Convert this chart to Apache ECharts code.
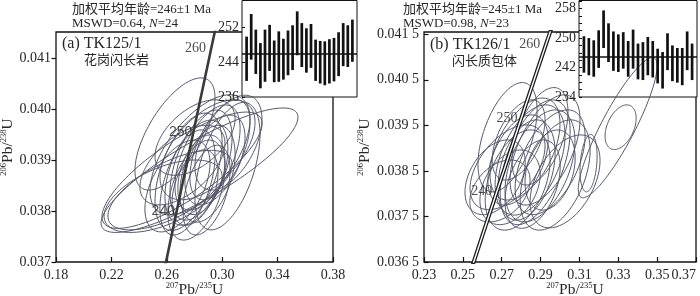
<!DOCTYPE html>
<html><head><meta charset="utf-8">
<script src="https://cdn.jsdelivr.net/npm/echarts@6/dist/echarts.min.js"></script>
<style>html,body{margin:0;padding:0;background:#fff}#c{width:700px;height:296px}</style>
</head><body><div id="c"></div>
<script>
// ---------- DATA ----------
// concordia curve (age in Ma, 207Pb/235U, 206Pb/238U)
const concAge = [230, 235, 240, 245, 250, 255, 260, 265];
const concX = [0.25422, 0.26041, 0.26663, 0.27289, 0.27917, 0.28549, 0.29183, 0.29821];
const concY = [0.036323, 0.037127, 0.037932, 0.038737, 0.039543, 0.040350, 0.041157, 0.041965];
const concLabelAges = [240, 250, 260];

// error ellipses: [207Pb/235U, half-range x, 206Pb/238U, half-range y, rho]
const ellipsesA = [
  [0.2836, 0.0711, 0.03880, 0.00122, 0.85],
  [0.2710, 0.0578, 0.03880, 0.00114, 0.80],
  [0.2659, 0.0289, 0.03951, 0.00110, 0.65],
  [0.2573, 0.0426, 0.03829, 0.00071, 0.55],
  [0.2623, 0.0448, 0.03841, 0.00078, 0.65],
  [0.2840, 0.0361, 0.03910, 0.00118, 0.60],
  [0.2894, 0.0343, 0.03920, 0.00098, 0.55],
  [0.2757, 0.0242, 0.03877, 0.00115, 0.50],
  [0.2814, 0.0227, 0.03875, 0.00103, 0.45],
  [0.2847, 0.0224, 0.03890, 0.00108, 0.50],
  [0.2894, 0.0235, 0.03905, 0.00103, 0.55],
  [0.2749, 0.0199, 0.03856, 0.00103, 0.50],
  [0.2814, 0.0206, 0.03841, 0.00098, 0.45],
  [0.2894, 0.0199, 0.03873, 0.00095, 0.40],
  [0.2948, 0.0217, 0.03900, 0.00088, 0.50],
  [0.2804, 0.0166, 0.03846, 0.00074, 0.40],
  [0.2984, 0.0217, 0.03920, 0.00098, 0.55],
  [0.2677, 0.0235, 0.03849, 0.00090, 0.50],
  [0.2850, 0.0170, 0.03871, 0.00078, 0.35],
  [0.3045, 0.0242, 0.03934, 0.00093, 0.50],
  [0.2804, 0.0289, 0.03944, 0.00074, 0.50],
  [0.2887, 0.0170, 0.03841, 0.00088, 0.45],
  [0.2713, 0.0307, 0.03890, 0.00078, 0.55],
  [0.3038, 0.0235, 0.03888, 0.00125, 0.50]
];
const ellipsesB = [
  [0.3297, 0.0203, 0.03945, 0.00154, 0.88],
  [0.3312, 0.0080, 0.03946, 0.00049, 0.40],
  [0.3147, 0.0044, 0.03867, 0.00063, 0.25],
  [0.2730, 0.0152, 0.03924, 0.00120, 0.50],
  [0.2666, 0.0155, 0.03836, 0.00082, 0.40],
  [0.2730, 0.0193, 0.03858, 0.00093, 0.50],
  [0.2820, 0.0180, 0.03898, 0.00112, 0.50],
  [0.2846, 0.0180, 0.03874, 0.00121, 0.45],
  [0.2872, 0.0180, 0.03869, 0.00137, 0.50],
  [0.2897, 0.0180, 0.03861, 0.00123, 0.45],
  [0.2782, 0.0167, 0.03830, 0.00110, 0.40],
  [0.2923, 0.0180, 0.03896, 0.00121, 0.55],
  [0.2949, 0.0180, 0.03869, 0.00115, 0.50],
  [0.2828, 0.0147, 0.03852, 0.00110, 0.35],
  [0.2975, 0.0180, 0.03841, 0.00121, 0.45],
  [0.2859, 0.0142, 0.03821, 0.00097, 0.40],
  [0.2787, 0.0136, 0.03918, 0.00088, 0.50],
  [0.2949, 0.0129, 0.03852, 0.00088, 0.30],
  [0.2743, 0.0155, 0.03814, 0.00082, 0.35],
  [0.3026, 0.0180, 0.03827, 0.00102, 0.45],
  [0.2784, 0.0155, 0.03874, 0.00099, 0.45],
  [0.2897, 0.0144, 0.03926, 0.00107, 0.50],
  [0.2691, 0.0155, 0.03806, 0.00068, 0.35]
];

// weighted-mean inset: 206Pb/238U ages (Ma), upper and lower error limits
const spotAHigh = [249.9, 255.1, 251.5, 248.4, 251.5, 252.6, 249.0, 251.1, 249.4, 251.3, 252.5, 255.7,
                   253.0, 251.8, 252.8, 249.2, 248.9, 248.8, 249.3, 249.6, 250.9, 253.0, 252.5, 253.8];
const spotALow  = [239.7, 244.6, 241.3, 238.0, 239.5, 242.0, 239.4, 239.5, 240.0, 241.0, 242.2, 245.6,
                   242.9, 241.6, 242.7, 239.7, 239.1, 238.7, 239.1, 239.6, 240.8, 243.1, 242.9, 244.1];
const meanA = 246;
const spotBHigh = [250.5, 250.0, 249.4, 252.1, 257.5, 254.0, 251.8, 251.0, 251.6, 249.2, 252.3, 248.5,
                   248.9, 250.3, 249.2, 247.1, 246.2, 251.3, 248.0, 247.3, 247.3, 251.8, 248.5];
const spotBLow  = [240.6, 239.9, 239.5, 241.9, 247.3, 243.5, 241.1, 240.8, 241.7, 239.5, 241.7, 238.8,
                   238.6, 239.9, 239.3, 237.7, 236.3, 241.3, 238.3, 237.9, 237.2, 241.3, 238.6];
const meanB = 245;

// tick values
const xTicksA = [0.18, 0.22, 0.26, 0.30, 0.34, 0.38];
const yTicksA = [0.037, 0.038, 0.039, 0.040, 0.041];
const xTicksB = [0.23, 0.25, 0.27, 0.29, 0.31, 0.33, 0.35, 0.37];
const yTicksB = [0.0365, 0.0375, 0.0385, 0.0395, 0.0405, 0.0415];
const insetLabelsA = [236, 244, 252];
const insetLabelsB = [234, 242, 250, 258];
const insetTicksB = [234, 236, 238, 240, 242, 244, 246, 248, 250, 252, 254, 256, 258, 260];

// texts
const titleA = ['加权平均年龄=246±1 Ma', 'MSWD=0.64, ', 'N', '=24', '(a) TK125/1', '花岗闪长岩'];
const titleB = ['加权平均年龄=245±1 Ma', 'MSWD=0.98, ', 'N', '=23', '(b) TK126/1', '闪长质包体'];

// ---------- RENDER ----------
const SERIF = '"Liberation Serif","Times New Roman","Noto Sans CJK SC",serif';
const SANS = '"Liberation Sans",Arial,sans-serif';
const TXT = '#262626';
const chart = echarts.init(document.getElementById('c'), null, {renderer: 'canvas'});

function ellipseItem(params, api) {
  const cx = api.value(0), sx = api.value(1), cy = api.value(2), sy = api.value(3), r = api.value(4);
  const q = Math.sqrt(1 - r * r);
  const pts = [];
  const n = 120;
  for (let k = 0; k < n; k++) {
    const t = k / n * Math.PI * 2;
    const c = Math.cos(t), s = Math.sin(t);
    pts.push(api.coord([cx + sx * c, cy + sy * (r * c + q * s)]));
  }
  return {type: 'polygon', shape: {points: pts}, style: {fill: 'none', stroke: '#55556a', lineWidth: 1}};
}
function barItem(params, api) {
  const hi = api.coord([api.value(0), api.value(1)]);
  const lo = api.coord([api.value(0), api.value(2)]);
  return {type: 'rect', shape: {x: hi[0] - 1.35, y: hi[1], width: 2.7, height: lo[1] - hi[1]}, style: {fill: '#111'}};
}
const axisNameRich = {
  s: {fontSize: 8.5, fontFamily: SERIF, color: TXT, verticalAlign: 'top', lineHeight: 16},
  m: {fontSize: 15.5, fontFamily: SERIF, color: TXT, lineHeight: 16}
};
function mainX(gi, min, max, ticks, nameGap, pad, alignMax) {
  return {
    gridIndex: gi, type: 'value', min: min, max: max, z: 0,
    axisLine: {show: false},
    axisTick: {show: true, inside: true, length: 5, customValues: ticks, lineStyle: {color: '#111', width: 1.2}},
    axisLabel: {customValues: ticks, formatter: v => v.toFixed(2), margin: 6, fontFamily: SERIF, fontSize: 14, color: TXT,
                alignMaxLabel: alignMax},
    splitLine: {show: false},
    name: '{s|207}{m|Pb/}{s|235}{m|U}', nameLocation: 'middle', nameGap: nameGap, nameMoveOverlap: false,
    nameTextStyle: {rich: axisNameRich, padding: pad}
  };
}
function mainY(gi, min, max, ticks, inside, fmt, nameGap) {
  return {
    gridIndex: gi, type: 'value', min: min, max: max, z: 0,
    axisLine: {show: false},
    axisTick: {show: true, inside: inside, length: 4.5, customValues: ticks, lineStyle: {color: '#111', width: 1.2}},
    axisLabel: {customValues: ticks, formatter: fmt, margin: 5, fontFamily: SERIF, fontSize: 14, color: TXT},
    splitLine: {show: false},
    name: '{s|206}{m|Pb/}{s|238}{m|U}', nameLocation: 'middle', nameGap: nameGap, nameRotate: 90, nameMoveOverlap: false,
    nameTextStyle: {rich: axisNameRich}
  };
}
function insetY(gi, min, max, labels, ticks) {
  return {
    gridIndex: gi, type: 'value', min: min, max: max, z: 4,
    axisLine: {show: false},
    axisTick: {show: true, inside: true, length: 3, customValues: ticks, lineStyle: {color: '#111', width: 1}},
    axisLabel: {customValues: labels, margin: 3, fontFamily: SERIF, fontSize: 14, color: TXT},
    splitLine: {show: false}
  };
}
function concPoints() { return concX.map((x, i) => [x, concY[i]]); }
function ageLabels(styles) {
  return concLabelAges.map((a, k) => {
    const i = concAge.indexOf(a);
    return {value: [concX[i], concY[i], a], label: styles[k]};
  });
}
const titleStyle = {fontFamily: SERIF, fontSize: 13, fontWeight: 'normal', color: TXT};
function titles(t, x1, x2, y2) {
  return [
    {text: t[0], left: x1, top: 3, padding: 0, textStyle: titleStyle},
    {text: '{a|' + t[1] + '}{i|' + t[2] + '}{a|' + t[3] + '}', left: x1, top: 17, padding: 0,
     textStyle: {rich: {a: titleStyle, i: Object.assign({}, titleStyle, {fontStyle: 'italic'})}}},
    {text: t[4], left: x2, top: y2, padding: 0, textStyle: {fontFamily: SERIF, fontSize: 16, fontWeight: 'normal', color: TXT}},
    {text: t[5], left: x2 + 22, top: y2 + 18, padding: 0, textStyle: {fontFamily: SERIF, fontSize: 13, fontWeight: 'normal', color: TXT}}
  ];
}
const gridBase = {show: true, outerBoundsMode: 'none', containLabel: false};

const option = {
  animation: false,
  backgroundColor: '#fff',
  title: titles(titleA, 72, 62, 36).concat(titles(titleB, 403, 430, 37)),
  grid: [
    Object.assign({left: 56, top: 32, width: 277, height: 230, borderColor: '#111', borderWidth: 1.3, backgroundColor: 'transparent', z: 0}, gridBase),
    Object.assign({left: 242, top: 0.5, width: 115, height: 96.5, borderColor: '#111', borderWidth: 1, backgroundColor: '#fff', z: 1}, gridBase),
    Object.assign({left: 424, top: 32, width: 272, height: 230, borderColor: '#111', borderWidth: 1.3, backgroundColor: 'transparent', z: 0}, gridBase),
    Object.assign({left: 579, top: 0.5, width: 118, height: 96.5, borderColor: '#111', borderWidth: 1, backgroundColor: '#fff', z: 1}, gridBase)
  ],
  xAxis: [
    mainX(0, 0.18, 0.38, xTicksA, 20, [0, 0, 0, 0], null),
    {gridIndex: 1, type: 'value', min: 0, max: 25, show: false},
    mainX(2, 0.23, 0.37, xTicksB, 20, [0, 0, 0, 30], 'right'),
    {gridIndex: 3, type: 'value', min: 0, max: 24, show: false}
  ],
  yAxis: [
    mainY(0, 0.037, 0.04151, yTicksA, false, v => v.toFixed(3), 40),
    insetY(1, 236, 258.2, insetLabelsA, insetLabelsA),
    mainY(2, 0.0365, 0.04155, yTicksB, true, v => { const s = v.toFixed(4); return s.slice(0, 5) + ' ' + s.slice(5); }, 51),
    insetY(3, 234, 260.2, insetLabelsB, insetTicksB)
  ],
  series: [
    {type: 'custom', xAxisIndex: 0, yAxisIndex: 0, renderItem: ellipseItem, data: ellipsesA, encode: {x: 0, y: 2}, clip: true, z: 2, silent: true},
    {type: 'custom', xAxisIndex: 2, yAxisIndex: 2, renderItem: ellipseItem, data: ellipsesB, encode: {x: 0, y: 2}, clip: true, z: 2, silent: true},
    {type: 'line', xAxisIndex: 0, yAxisIndex: 0, data: concPoints(), showSymbol: false, clip: true, z: 3,
     lineStyle: {color: '#3a3a3a', width: 2.6}},
    {type: 'line', xAxisIndex: 2, yAxisIndex: 2, data: concPoints(), showSymbol: false, clip: true, z: 3,
     lineStyle: {color: '#1e1e1e', width: 4}},
    {type: 'line', xAxisIndex: 2, yAxisIndex: 2, data: concPoints(), showSymbol: false, clip: true, z: 3,
     lineStyle: {color: '#ffffff', width: 1.4}},
    {type: 'scatter', xAxisIndex: 0, yAxisIndex: 0, symbolSize: 0, z: 5, silent: true,
     label: {show: true, position: 'left', formatter: p => p.value[2], fontSize: 14, color: '#222'},
     data: ageLabels([
       {distance: 1, offset: [0, -3], fontFamily: SANS},
       {distance: 1, offset: [0, 0], fontFamily: SANS},
       {distance: 5, offset: [0, -2], fontFamily: SERIF}
     ])},
    {type: 'scatter', xAxisIndex: 2, yAxisIndex: 2, symbolSize: 0, z: 5, silent: true,
     label: {show: true, position: 'left', formatter: p => p.value[2], fontSize: 14, color: '#222', fontFamily: SERIF},
     data: ageLabels([
       {distance: 3, offset: [0, -5]},
       {distance: 2, offset: [0, -5]},
       {distance: 4, offset: [0, -6]}
     ])},
    {type: 'custom', xAxisIndex: 1, yAxisIndex: 1, renderItem: barItem, z: 4, silent: true,
     data: spotAHigh.map((h, i) => [i + 1, h, spotALow[i]]),
     markLine: {silent: true, symbol: 'none', label: {show: false}, lineStyle: {color: '#111', width: 1.5, type: 'solid'},
                data: [{yAxis: meanA}]}},
    {type: 'custom', xAxisIndex: 3, yAxisIndex: 3, renderItem: barItem, z: 4, silent: true,
     data: spotBHigh.map((h, i) => [i + 1, h, spotBLow[i]]),
     markLine: {silent: true, symbol: 'none', label: {show: false}, lineStyle: {color: '#111', width: 1.5, type: 'solid'},
                data: [{yAxis: meanB}]}}
  ]
};
chart.setOption(option);
</script>
</body></html>
